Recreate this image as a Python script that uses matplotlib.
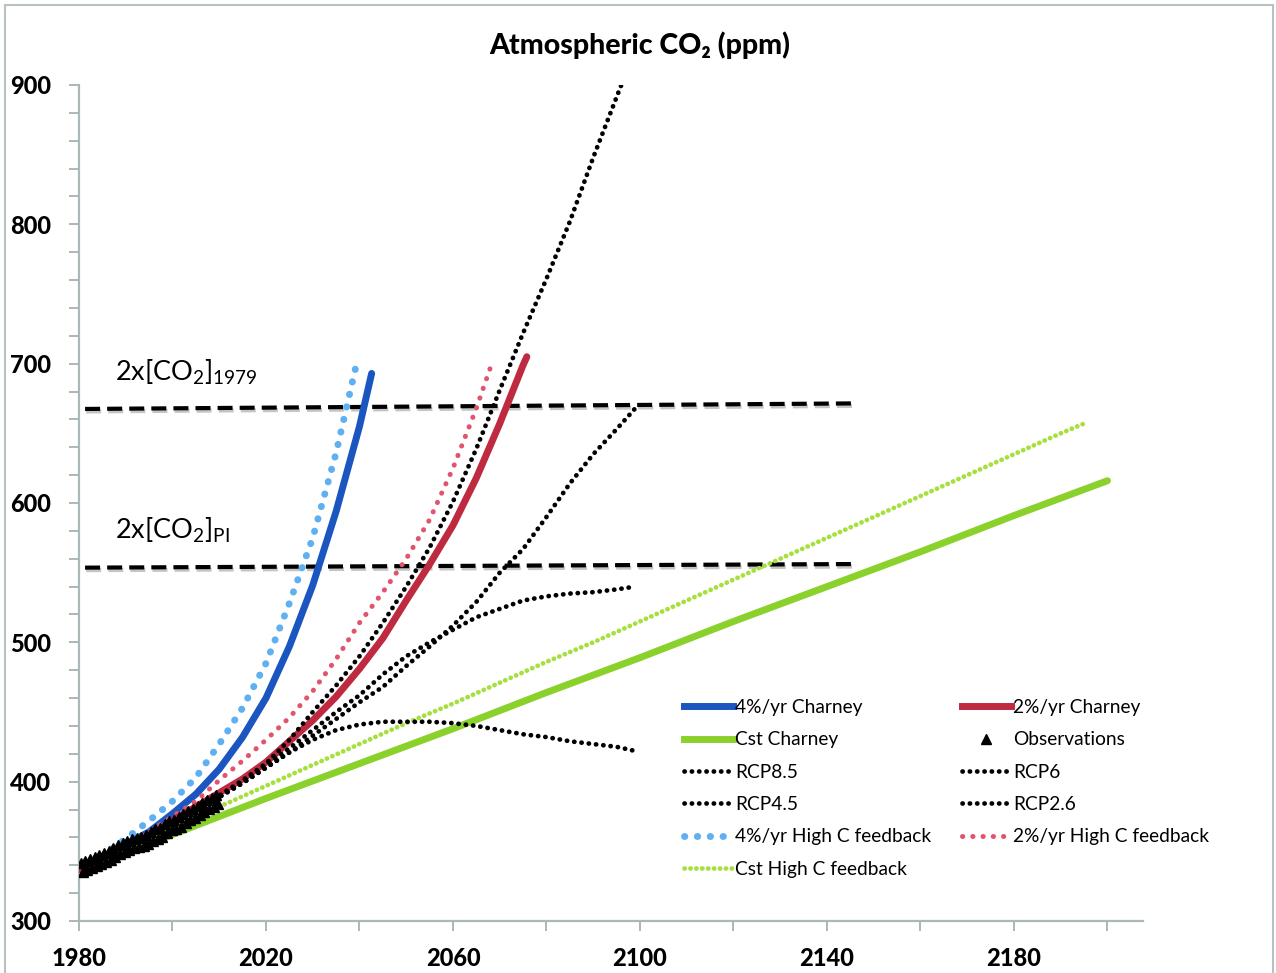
import matplotlib
matplotlib.use("Agg")
import matplotlib.pyplot as plt
import matplotlib.patheffects as pe
from matplotlib.lines import Line2D
from matplotlib.patches import Rectangle

plt.rcParams['font.family'] = ['Lato', 'DejaVu Sans']
plt.rcParams['mathtext.fontset'] = 'custom'
plt.rcParams['mathtext.rm'] = 'Lato'
plt.rcParams['mathtext.default'] = 'regular'

# --- scenario curves (year, ppm) ---
cst_years = [1980, 2000, 2020, 2040, 2060, 2080, 2100, 2120, 2140, 2160, 2180, 2200]
cst_charney = [337, 362, 388, 413, 438, 464, 489, 515, 540, 565, 591, 616]

csth_years = [1980, 1990, 2000, 2010, 2020, 2030, 2040, 2050, 2060, 2070, 2080,
              2090, 2100, 2110, 2120, 2130, 2140, 2150, 2160, 2170, 2180, 2190, 2195]
cst_highc = [337, 352, 367, 382, 397, 412, 427, 442, 456, 471, 486,
             500, 515, 530, 545, 560, 575, 590, 605, 620, 635, 650, 657]

p4_years = [1980, 1985, 1990, 1995, 2000, 2005, 2010, 2015, 2020, 2025, 2030, 2035, 2040, 2042.6]
p4_charney = [337, 345, 355, 364, 377, 391, 409, 432, 460, 497, 541, 594, 655, 693]

p4h_years = [1980, 1985, 1990, 1995, 2000, 2005, 2010, 2015, 2020, 2025, 2030, 2035, 2039.3]
p4_highc = [337, 347, 359, 372, 386, 403, 427, 453, 485, 528, 575, 636, 699]

p2_years = [1980, 1985, 1990, 1995, 2000, 2005, 2010, 2015, 2020, 2025, 2030, 2035,
            2040, 2045, 2050, 2055, 2060, 2065, 2070, 2075, 2075.8]
p2_charney = [337, 346, 354, 361, 372, 382, 392, 402, 414, 429, 444, 461,
              481, 503, 530, 556, 584, 618, 657, 699, 705]

p2h_years = [1980, 1985, 1990, 1995, 2000, 2005, 2010, 2015, 2020, 2025, 2030, 2035,
             2040, 2045, 2050, 2055, 2060, 2065, 2068.6]
p2_highc = [337, 347, 355, 364, 375, 386, 401, 415, 430, 446, 465, 488,
            514, 536, 560, 588, 625, 668, 703]

# --- RCP concentration pathways ---
rcp85_years = [2005, 2010, 2015, 2020, 2025, 2030, 2035, 2040, 2045, 2050, 2055,
               2060, 2065, 2070, 2075, 2080, 2085, 2090, 2096]
rcp85 = [379, 390, 401, 413, 430, 450, 469, 490, 514, 540, 568,
         601, 639, 681, 722, 761, 802, 848, 900]

rcp_years = [2005, 2010, 2015, 2020, 2025, 2030, 2035, 2040, 2045, 2050, 2055,
             2060, 2065, 2070, 2075, 2080, 2085, 2090, 2095, 2099]
rcp6 = [379, 389, 399, 410, 421, 433, 445, 457, 468, 483, 497,
        512, 529, 550, 567, 590, 614, 635, 653, 668]
rcp45 = [379, 389, 400, 412, 424, 437, 450, 462, 477, 490, 500,
         509, 518, 524, 530, 533, 535, 536, 538, 540]
rcp26 = [379, 389, 399, 410, 421, 430, 437, 441, 443, 443, 443,
         442, 440, 437, 434, 432, 429, 427, 425, 422]

# --- observations: seasonal highs (May) and lows (Oct) ---
obs_years = list(range(1980, 2010))
obs_high = [341.8, 343.1, 344.4, 346.0, 347.6, 349.0, 350.4, 352.2, 354.6, 356.1,
            357.4, 358.7, 359.5, 360.2, 361.9, 363.9, 365.7, 366.8, 369.8, 371.5,
            372.7, 374.3, 376.5, 378.8, 380.5, 382.8, 384.9, 386.8, 388.6, 390.4]
obs_low = [335.3, 336.6, 337.9, 339.5, 341.1, 342.5, 343.9, 345.7, 348.1, 349.6,
           350.9, 352.2, 353.0, 353.7, 355.4, 357.4, 359.2, 360.3, 363.3, 365.0,
           366.2, 367.8, 370.0, 372.3, 374.0, 376.3, 378.4, 380.3, 382.1, 383.9]

# --- doubling reference levels ---
dbl_years = [1981.3, 2146.6]
dbl_1979 = [667.5, 671.5]
dbl_pi = [553.6, 556.2]

BLUE = '#1b55c0'
RED = '#be2b40'
GREEN = '#8ad12b'
LBLUE = '#5fb0f2'
PINK = '#e2536c'
LGREEN = '#a6e03e'
AXIS_GREY = '#a9b8b8'

fig = plt.figure(figsize=(12.76, 9.73), dpi=100)
ax = fig.add_axes([79 / 1276, 52 / 973, 1064 / 1276, 836 / 973])

shadow = [pe.SimpleLineShadow(offset=(0.8, -1.8), shadow_color='grey', alpha=0.45), pe.Normal()]
ax.plot(dbl_years, dbl_1979, color='black', lw=3.0, dashes=(3.6, 1.7), path_effects=shadow, zorder=2)
ax.plot(dbl_years, dbl_pi, color='black', lw=3.0, dashes=(3.6, 1.7), path_effects=shadow, zorder=2)

dot = dict(dash_capstyle='round', solid_capstyle='round')
lgreen_style = dict(color=LGREEN, lw=3.4, linestyle=(0, (0.05, 1.2)), **dot)
lblue_style = dict(color=LBLUE, lw=5.0, linestyle=(0, (0.05, 1.8)), **dot)
pink_style = dict(color=PINK, lw=3.6, linestyle=(0, (0.05, 2.0)), **dot)
rcp_style = dict(color='black', lw=3.4, linestyle=(0, (0.05, 1.5)), **dot)

ax.plot(cst_years, cst_charney, color=GREEN, lw=5, solid_capstyle='round', zorder=3)
ax.plot(csth_years, cst_highc, zorder=3, **lgreen_style)
ax.plot(p4h_years, p4_highc, zorder=4, **lblue_style)
ax.plot(p4_years, p4_charney, color=BLUE, lw=5, solid_capstyle='round', zorder=4)
ax.plot(p2h_years, p2_highc, zorder=4, **pink_style)
ax.plot(p2_years, p2_charney, color=RED, lw=5, solid_capstyle='round', zorder=4)

ax.plot(rcp85_years, rcp85, zorder=5, **rcp_style)
ax.plot(rcp_years, rcp6, zorder=5, **rcp_style)
ax.plot(rcp_years, rcp45, zorder=5, **rcp_style)
ax.plot(rcp_years, rcp26, zorder=5, **rcp_style)

obs_x = [y + 0.35 for y in obs_years] + [y + 0.8 for y in obs_years]
obs_y = obs_high + obs_low
ax.plot(obs_x, obs_y, linestyle='none', marker='^', ms=7.5, color='black', zorder=6)

ax.text(1987.7, 688, r'2x[CO$_2$]$_{1979}$', fontsize=19.5, va='baseline', ha='left')
ax.text(1987.7, 574, r'2x[CO$_2$]$_{PI}$', fontsize=19.5, va='baseline', ha='left')

ax.set_xlim(1980, 2207.6)
ax.set_ylim(300, 900)
ax.set_xticks(range(1980, 2181, 40))
ax.set_xticks(range(2000, 2201, 40), minor=True)
ax.set_yticks(range(300, 901, 100))
ax.set_yticks(range(300, 901, 20), minor=True)
for s in ('top', 'right'):
    ax.spines[s].set_visible(False)
for s in ('left', 'bottom'):
    ax.spines[s].set_color(AXIS_GREY)
    ax.spines[s].set_linewidth(1.6)
ax.tick_params(which='both', direction='out', length=7, width=1.4, color=AXIS_GREY)
ax.tick_params(axis='y', which='major', pad=13, labelsize=17)
ax.tick_params(axis='x', which='major', pad=12, labelsize=17)
for lab in ax.get_xticklabels() + ax.get_yticklabels():
    lab.set_fontweight('black')

fig.text(640 / 1276, 1 - 45 / 973, 'Atmospheric CO\u2082 (ppm)', ha='center', va='center',
         fontsize=20.5, fontweight='black')

handles = [
    Line2D([], [], color=BLUE, lw=5),
    Line2D([], [], color=GREEN, lw=5),
    Line2D([], [], **rcp_style),
    Line2D([], [], **rcp_style),
    Line2D([], [], **lblue_style),
    Line2D([], [], **lgreen_style),
    Line2D([], [], color=RED, lw=5),
    Line2D([], [], color='black', linestyle='none', marker='^', ms=7.5),
    Line2D([], [], **rcp_style),
    Line2D([], [], **rcp_style),
    Line2D([], [], **pink_style),
]
labels = ['4%/yr Charney', 'Cst Charney', 'RCP8.5', 'RCP4.5', '4%/yr High C feedback',
          'Cst High C feedback', '2%/yr Charney', 'Observations', 'RCP6', 'RCP2.6',
          '2%/yr High C feedback']
fig.legend(handles, labels, ncol=2, loc='upper left', bbox_to_anchor=(684 / 1276, 1 - 699 / 973),
           frameon=False, fontsize=13.8, handlelength=2.55, handletextpad=0.12,
           columnspacing=1.6, labelspacing=0.8, borderpad=0, borderaxespad=0)

fig.add_artist(Rectangle((5 / 1276, -0.02), 1268 / 1276, 1.02 - 5 / 973, transform=fig.transFigure,
                         fill=False, ec='#b7c3c3', lw=1.5))

fig.savefig('out.png', dpi=100)
